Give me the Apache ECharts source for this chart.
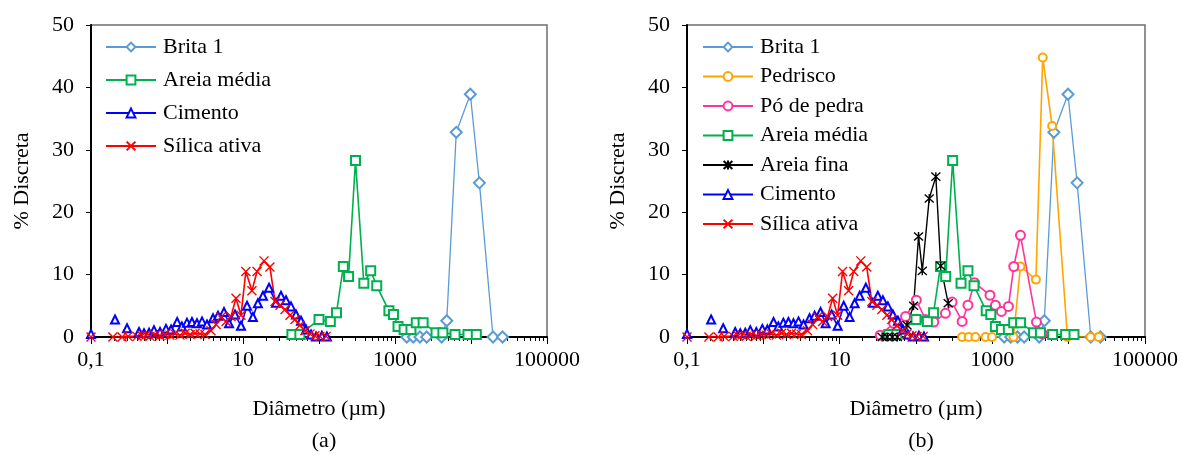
<!DOCTYPE html>
<html><head><meta charset="utf-8">
<script src="https://cdn.jsdelivr.net/npm/echarts@6/dist/echarts.min.js"></script>
<style>html,body{margin:0;padding:0;background:#fff}#c{width:1182px;height:455px}</style>
</head><body><div id="c"></div>
<script>
// ---- tick labels ----
const xTickLabels = {"0.1":"0,1","10":"10","1000":"1000","100000":"100000"};
const yMin = 0, yMax = 50, yStep = 10;
const panelLabels = ["(a)", "(b)"];

// ---- data (diameter in µm, % discreta); null = gap in the curve ----
const britaD = [1430, 1740, 2130, 2610, 4110, 4800, 6400, 9800, 12900, 19500, 26000];
const britaV = [0, 0, 0, 0, 0, 2.6, 32.8, 38.9, 24.7, 0, 0];

const pedriscoD = [402, 491, 601, 813, 991, 1892, 2334, 3724, 4571, 6081, 9638, 19320, 24770];
const pedriscoV = [0, 0, 0, 0, 0, 0, 11.3, 9.2, 44.8, 33.8, 0, 0, 0];

const poPedraD = [34, 51, 73, 101, 133, 171, 243, 297, 402, 479, 582, 931, 1099, 1316, 1626, 1910, 2334, 3784, 4540];
const poPedraV = [0.3, 2.2, 3.3, 5.9, 2.8, 2.4, 3.8, 5.6, 2.5, 5.1, 8.7, 6.7, 5.1, 4.1, 4.9, 11.3, 16.3, 2.4, 0.5];

const areiaMediaD = [44, 56, 100, 141, 170, 209, 245, 302, 389, 479, 575, 832, 955, 1096, 1318, 1622, 1905, 2344, 3467, 4266, 6166, 9120, 11750];
const areiaMediaV = [0.4, 0.4, 2.8, 2.5, 3.9, 11.3, 9.7, 28.3, 8.6, 10.6, 8.2, 4.2, 3.6, 1.7, 1.2, 1.2, 2.3, 2.3, 0.7, 0.7, 0.4, 0.4, 0.4];

const areiaFinaD = [36, 42, 49, 57, 76, 93, 108, 121, 149, 182, 211, 264];
const areiaFinaV = [0, 0, 0, 0, 1.9, 5.0, 16.1, 10.6, 22.2, 25.7, 11.4, 5.4];

const cimentoD = [0.1, 0.15, 0.207, 0.25, 0.298, 0.36, 0.428, 0.498, 0.58, 0.674, 0.809, 0.97, 1.13, 1.36, 1.57, 1.83, 2.13, 2.48, 2.89, 3.36, 4.03, 4.69, 5.62, 6.55, 7.85, 9.41, 11.3, 13.5, 15.7, 18.3, 22.0, 27.2, 31.6, 36.8, 42.8, 49.8, 58, 67.4, 78.5, 91.4, 109, 127];
const cimentoV = [0.5, null, 2.8, null, 1.4, null, 0.8, 0.6, 0.7, 1.1, 0.8, 1.3, 1.2, 2.4, 1.7, 2.3, 2.4, 2.2, 2.5, 2.0, 3.0, 3.4, 4.0, 2.2, 3.6, 1.8, 5.0, 3.2, 5.4, 6.6, 7.9, 5.5, 6.6, 5.9, 4.9, 3.6, 2.6, 1.2, 0.4, 0.1, 0.2, 0.1];

const silicaD = [0.1, 0.14, 0.194, 0.256, 0.307, 0.403, 0.469, 0.529, 0.597, 0.695, 0.809, 0.942, 1.09, 1.27, 1.48, 1.73, 2.01, 2.34, 2.72, 3.16, 3.79, 4.42, 5.14, 5.98, 6.95, 8.09, 9.41, 10.9, 13.1, 15.3, 18.9, 22.6, 26.4, 30.7, 35.7, 41.5, 48.3, 56.2, 65.4, 76.2, 88.5, 103, 124];
const silicaV = [0, null, 0, 0, 0.1, 0.1, 0.2, 0.3, 0.1, 0.3, 0.2, 0.4, 0.3, 0.5, 0.3, 0.6, 0.4, 0.6, 0.5, 0.4, 1.0, 2.0, 3.2, 2.5, 3.3, 6.2, 3.5, 10.5, 7.4, 10.5, 12.2, 11.2, 5.7, 5.1, 4.4, 3.5, 2.8, 1.9, 1.0, 0.5, 0.2, 0.1, 0.1];

const seriesNamesA = ["Brita 1", "Areia média", "Cimento", "Sílica ativa"];
const seriesNamesB = ["Brita 1", "Pedrisco", "Pó de pedra", "Areia média", "Areia fina", "Cimento", "Sílica ativa"];

const dataByName = {
  "Brita 1": [britaD, britaV],
  "Pedrisco": [pedriscoD, pedriscoV],
  "Pó de pedra": [poPedraD, poPedraV],
  "Areia média": [areiaMediaD, areiaMediaV],
  "Areia fina": [areiaFinaD, areiaFinaV],
  "Cimento": [cimentoD, cimentoV],
  "Sílica ativa": [silicaD, silicaV]
};

const asterisk = 'path://M5,0L5,10M0.5,0.5L9.5,9.5M9.5,0.5L0.5,9.5';
const xMark = 'path://M0,0L10,10M10,0L0,10';
const styleByName = {
  "Brita 1": {c: '#5B9BD5', s: 'emptyDiamond', z: 11, lw: 1.3},
  "Pedrisco": {c: '#FFA500', s: 'emptyCircle', z: 8, lw: 1.6},
  "Pó de pedra": {c: '#FF3399', s: 'emptyCircle', z: 9, lw: 1.6},
  "Areia média": {c: '#00B050', s: 'emptyRect', z: 9, lw: 1.6},
  "Areia fina": {c: '#000000', s: asterisk, z: 9, lw: 1.4},
  "Cimento": {c: '#0000FF', s: 'emptyTriangle', z: 8, lw: 1.6},
  "Sílica ativa": {c: '#FF0000', s: xMark, z: 9, lw: 1.6}
};

const FONT = 'Liberation Serif';
const FS = 22;

function makeSeries(name, gi) {
  const st = styleByName[name];
  const [d, v] = dataByName[name];
  return {
    name: name, type: 'line', xAxisIndex: gi, yAxisIndex: gi,
    data: d.map((x, i) => [x, v[i] === null ? '-' : v[i]]),
    connectNulls: false,
    symbol: st.s, symbolSize: st.z, showSymbol: true,
    lineStyle: {color: st.c, width: st.lw},
    itemStyle: {color: st.c, borderColor: st.c, borderWidth: 1.4},
    emphasis: {disabled: true},
    animation: false
  };
}

const grids = [
  {left: 91, top: 25, width: 456, height: 312},
  {left: 687, top: 25, width: 458, height: 312}
];

function xAx(gi) {
  return {
    gridIndex: gi, type: 'log', logBase: 10, min: 0.1, max: 100000, position: 'bottom',
    name: 'Diâmetro (µm)', nameLocation: 'middle', nameGap: 61,
    nameTextStyle: {fontFamily: FONT, fontSize: FS, color: '#000'},
    axisLine: {show: true, onZero: false, lineStyle: {color: '#000', width: 2}},
    axisTick: {show: true, inside: false, length: 7, lineStyle: {color: '#000', width: 1}},
    minorTick: {show: true, splitNumber: 9, length: 4, lineStyle: {color: '#000', width: 1}},
    splitLine: {show: false}, minorSplitLine: {show: false},
    axisLabel: {
      fontFamily: FONT, fontSize: FS, color: '#000', margin: 12, showMinLabel: true, showMaxLabel: true,
      formatter: function (val) {
        const k = String(+(+val).toPrecision(6));
        return xTickLabels[k] !== undefined ? xTickLabels[k] : '';
      }
    },
    z: 3
  };
}
function yAx(gi) {
  return {
    gridIndex: gi, type: 'value', min: yMin, max: yMax, interval: yStep,
    name: '% Discreta', nameLocation: 'middle', nameGap: 58, nameRotate: 90,
    nameTextStyle: {fontFamily: FONT, fontSize: FS, color: '#000'},
    axisLine: {show: true, lineStyle: {color: '#000', width: 2}},
    axisTick: {show: true, inside: false, length: 5, lineStyle: {color: '#000', width: 1}},
    splitLine: {show: false},
    axisLabel: {fontFamily: FONT, fontSize: FS, color: '#000', margin: 17}
  };
}

function legend(names, left, gap) {
  return {
    data: names, orient: 'vertical', left: left, top: 31, itemGap: gap,
    itemWidth: 50, itemHeight: 11, selectedMode: false,
    textStyle: {fontFamily: FONT, fontSize: FS, color: '#000', padding: [0, 0, 0, 2]}
  };
}

const option = {
  backgroundColor: '#fff',
  animation: false,
  grid: grids.map(g => Object.assign({show: true, borderColor: '#6e6e6e', borderWidth: 1.5, backgroundColor: 'transparent'}, g)),
  xAxis: [xAx(0), xAx(1)],
  yAxis: [yAx(0), yAx(1)],
  legend: [legend(seriesNamesA, 100, 11), legend(seriesNamesB, 697, 7.5)],
  title: [
    {text: panelLabels[0], left: 319, top: 425, textAlign: 'center', textStyle: {fontFamily: FONT, fontSize: FS, fontWeight: 'normal', color: '#000'}},
    {text: panelLabels[1], left: 916, top: 425, textAlign: 'center', textStyle: {fontFamily: FONT, fontSize: FS, fontWeight: 'normal', color: '#000'}}
  ],
  series: seriesNamesA.map(n => makeSeries(n, 0)).concat(seriesNamesB.map(n => makeSeries(n, 1)))
};

const chart = echarts.init(document.getElementById('c'), null, {renderer: 'canvas'});
chart.setOption(option);
</script>
</body></html>
